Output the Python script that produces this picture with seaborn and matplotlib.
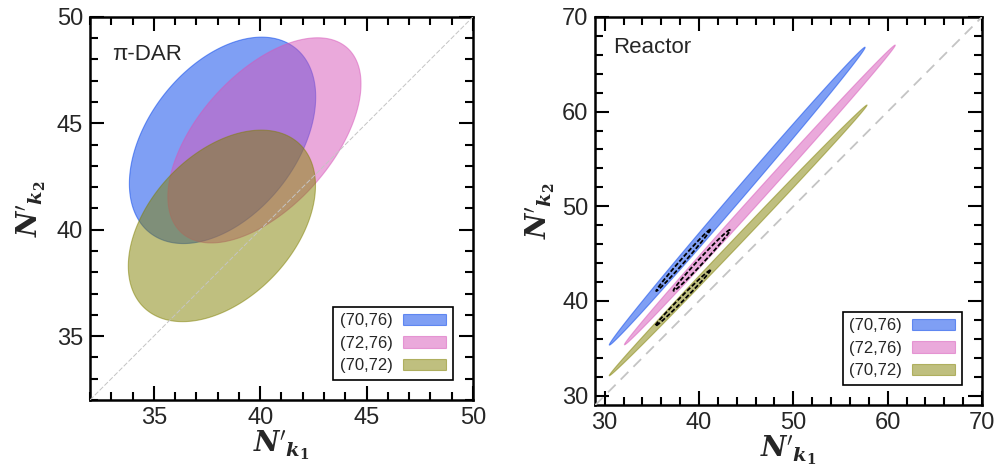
import numpy as np
import matplotlib
matplotlib.use("Agg")
import matplotlib.pyplot as plt
import seaborn as sns
from matplotlib.patches import Patch

# ---------------- data ----------------
pairs = ["(70,76)", "(72,76)", "(70,72)"]
colors = ["#0141eb", "#d755b9", "#808000"]

# pi-DAR panel: centre, x half-extent, y half-extent, correlation
dar_cx = [38.23, 40.20, 38.20]
dar_cy = [44.20, 44.20, 40.18]
dar_kx = [4.38, 4.54, 4.40]
dar_ky = [4.85, 4.82, 4.50]
dar_rho = [0.42, 0.55, 0.42]

# Reactor panel: centre, semi-major, semi-minor, angle (deg)
rea_cx = [44.05, 46.45, 44.15]
rea_cy = [51.07, 51.20, 46.40]
rea_a = [20.76, 21.36, 19.77]
rea_b = [0.55, 0.50, 0.42]
rea_ang = [49.25, 47.8, 46.3]

# Reactor panel: small dashed contours
dsh_cx = [38.33, 40.30, 38.28]
dsh_cy = [44.30, 44.30, 40.30]
dsh_a = [4.33, 4.40, 4.15]
dsh_b = [0.22, 0.28, 0.22]
dsh_ang = [48.6, 47.0, 45.3]

dar_lim = [32, 50]
rea_lim = [29, 70]

# ---------------- helpers ----------------
t = np.linspace(0, 2 * np.pi, 400)


def corr_ellipse(cx, cy, kx, ky, rho):
    x = cx + kx * np.cos(t)
    y = cy + ky * (rho * np.cos(t) + np.sqrt(1 - rho ** 2) * np.sin(t))
    return x, y


def rot_ellipse(cx, cy, a, b, ang):
    th = np.deg2rad(ang)
    x = cx + a * np.cos(t) * np.cos(th) - b * np.sin(t) * np.sin(th)
    y = cy + a * np.cos(t) * np.sin(th) + b * np.sin(t) * np.cos(th)
    return x, y


sns.set_style("ticks")
plt.rcParams["font.family"] = ["Liberation Sans", "DejaVu Sans"]
plt.rcParams["mathtext.fontset"] = "dejavuserif"

fig = plt.figure(figsize=(9.97, 4.70), dpi=100)
ax1 = fig.add_axes([0.0903, 0.149, 0.384, 0.815])
ax2 = fig.add_axes([0.597, 0.138, 0.388, 0.826])

# ---- left panel ----
for i in range(3):
    x, y = corr_ellipse(dar_cx[i], dar_cy[i], dar_kx[i], dar_ky[i], dar_rho[i])
    ax1.fill(x, y, facecolor=colors[i], alpha=0.5, edgecolor=colors[i], lw=0.8, zorder=2)
sns.lineplot(x=dar_lim, y=dar_lim, ax=ax1, color="#c4c4c4", lw=0.7,
             linestyle=(0, (5, 2)), zorder=3)

# ---- right panel ----
for i in range(3):
    x, y = rot_ellipse(rea_cx[i], rea_cy[i], rea_a[i], rea_b[i], rea_ang[i])
    ax2.fill(x, y, facecolor=colors[i], alpha=0.5, edgecolor=colors[i], lw=0.8, zorder=2)
for i in range(3):
    x, y = rot_ellipse(dsh_cx[i], dsh_cy[i], dsh_a[i], dsh_b[i], dsh_ang[i])
    ax2.plot(x, y, color="black", lw=1.3, linestyle=(0, (2.5, 1.2)), zorder=4)
sns.lineplot(x=rea_lim, y=rea_lim, ax=ax2, color="#c4c4c4", lw=1.3,
             linestyle=(0, (6, 4)), zorder=3)

# ---- axes styling ----
for ax, lim, maj, mnr, txt, tx, ty in [(ax1, dar_lim, 5, 1, "π-DAR", 0.057, 0.93),
                                       (ax2, rea_lim, 10, 2, "Reactor", 0.047, 0.948)]:
    ax.set_xlim(lim)
    ax.set_ylim(lim)
    ax.xaxis.set_major_locator(matplotlib.ticker.MultipleLocator(maj))
    ax.yaxis.set_major_locator(matplotlib.ticker.MultipleLocator(maj))
    ax.xaxis.set_minor_locator(matplotlib.ticker.MultipleLocator(mnr))
    ax.yaxis.set_minor_locator(matplotlib.ticker.MultipleLocator(mnr))
    ax.tick_params(which="both", direction="in", top=True, right=True,
                   width=1.5, color="black", labelsize=17, pad=5)
    ax.tick_params(which="major", length=10)
    ax.tick_params(which="minor", length=5.5)
    for s in ax.spines.values():
        s.set_linewidth(1.8)
        s.set_color("black")
        s.set_visible(True)
    ax.set_xlabel(r"$\mathbfit{N}'_{\mathbfit{k}_\mathbf{1}}$", fontsize=20)
    ax.set_ylabel(r"$\mathbfit{N}'_{\mathbfit{k}_\mathbf{2}}$", fontsize=20)
    ax.text(tx, ty, txt, transform=ax.transAxes,
            fontsize=16, va="top", ha="left")
    handles = [Patch(facecolor=c, edgecolor=c, alpha=0.5, lw=0.8) for c in colors]
    leg = ax.legend(handles, pairs, loc="lower right", markerfirst=False,
                    fontsize=12, frameon=True, fancybox=False,
                    edgecolor="black", framealpha=1, handlelength=2.6,
                    handleheight=0.7, handletextpad=0.6, labelspacing=0.45,
                    borderpad=0.4, borderaxespad=1.2)
    leg.get_frame().set_linewidth(1.2)
    leg.set_zorder(10)

ax1.xaxis.set_label_coords(0.5, -0.075)
ax1.yaxis.set_label_coords(-0.11, 0.5)
ax2.xaxis.set_label_coords(0.5, -0.072)
ax2.yaxis.set_label_coords(-0.10, 0.5)

fig.savefig("out.png", dpi=100)
